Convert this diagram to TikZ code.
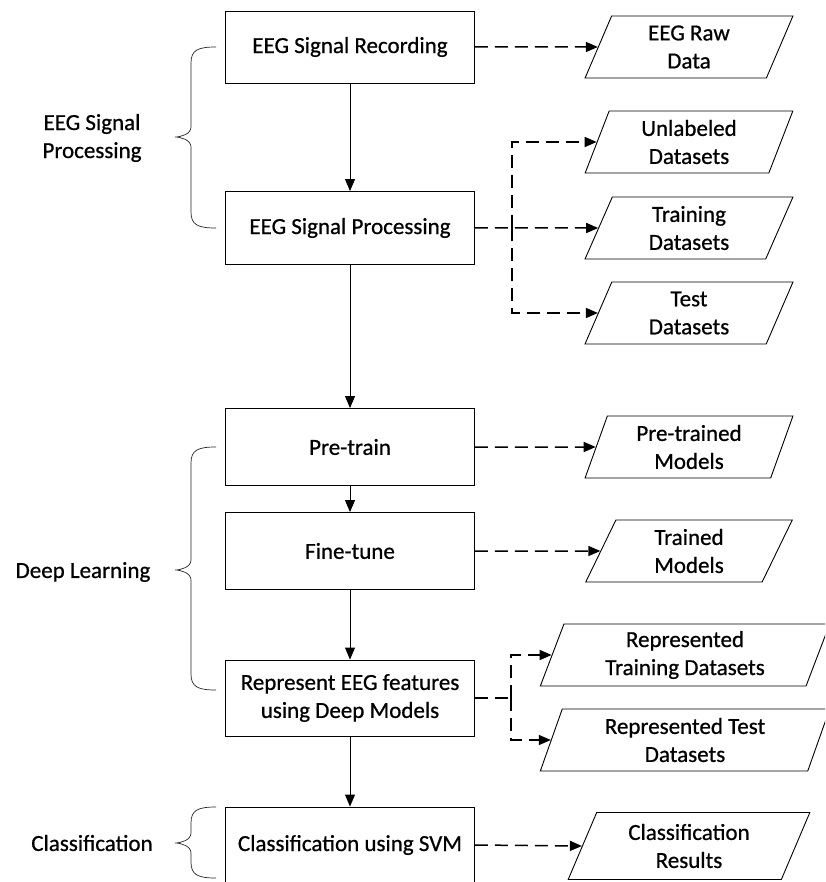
\documentclass[tikz,border=0pt]{standalone}
\usepackage{fontspec}
\setmainfont{Carlito}[FakeBold=0.7]
\usetikzlibrary{arrows.meta,shapes.geometric}

% left curly brace: #1 top y, #2 bottom y, #3 tip y
\newcommand\grpbrace[3]{%
  \draw[grp] (216,#1) .. controls (198,#1) and (191,#1+3) .. (191,#1+16)
    -- (191,#3-10) .. controls (191,#3-3) and (181,#3) .. (175,#3)
    .. controls (181,#3) and (191,#3+3) .. (191,#3+10)
    -- (191,#2-16) .. controls (191,#2-3) and (198,#2) .. (216,#2);}

\begin{document}
\begin{tikzpicture}[x=1pt,y=-1pt,
  txt/.style={font=\fontsize{23}{28}\selectfont},
  proc/.style={txt, draw, line width=0.9pt, minimum width=249pt,
    align=center, inner sep=0pt},
  data/.style={txt, trapezium, trapezium left angle=72,
    trapezium right angle=108, trapezium stretches=true, draw,
    line width=0.9pt, minimum width=208pt, minimum height=62pt,
    align=center, inner sep=0pt},
  flow/.style={line width=0.9pt, -{Triangle[length=12pt,width=10pt]}},
  product/.style={line width=1.5pt, dash pattern=on 13pt off 7pt,
    -{Triangle[length=12pt,width=10pt]}},
  grp/.style={line width=0.7pt, black!85},
  lbl/.style={txt, align=center}]

\useasboundingbox (0,0) rectangle (825,882);
\clip (0,0) rectangle (825,882);

% main process column
\node[proc, minimum height=72pt] (rec) at (350,47)  {EEG Signal Recording};
\node[proc, minimum height=73pt] (sp)  at (350,228) {EEG Signal Processing};
\node[proc, minimum height=77pt] (pre) at (350,447) {Pre-train};
\node[proc, minimum height=77pt] (fin) at (350,551) {Fine-tune};
\node[proc, minimum height=76pt] (rep) at (350,698) {Represent EEG features\\using Deep Models};
\node[proc, minimum height=76pt] (cls) at (350,845) {Classification using SVM};

% data products
\node[data] (raw) at (689,47)  {EEG Raw\\Data};
\node[data] (unl) at (689,142) {Unlabeled\\Datasets};
\node[data] (trn) at (689,228) {Training\\Datasets};
\node[data] (tst) at (689,313) {Test\\Datasets};
\node[data] (ptm) at (689,447) {Pre-trained\\Models};
\node[data] (tm)  at (689,551) {Trained\\Models};
\node[data, minimum width=290pt] (rtr) at (685,655) {Represented\\Training Datasets};
\node[data, minimum width=290pt] (rte) at (685,740) {Represented Test\\Datasets};
\node[data, minimum width=242pt, minimum height=67pt,
      trapezium left angle=67, trapezium right angle=113] (res) at (689,846) {Classification\\Results};

% stage labels
\node[lbl] (g1) at (92,138) {EEG Signal\\Processing};
\node[lbl] (g2) at (83,572) {Deep Learning};
\node[lbl] (g3) at (92,843) {Classification};

% flow between steps
\draw[flow] (rec) -- (sp);
\draw[flow] (sp) -- (pre);
\draw[flow] (pre) -- (fin);
\draw[flow] (fin) -- (rep);
\draw[flow] (rep) -- (cls);

% outputs of each step
\coordinate (j1) at (512,228);
\coordinate (j2) at (511,698);
\draw[product] (rec.east) -- (raw.west);
\draw[product] (sp.east) -- (trn.west);
\draw[product] (j1) |- (unl.west);
\draw[product] (j1) |- (tst.west);
\draw[product] (pre.east) -- (ptm.west);
\draw[product] (fin.east) -- (tm.west);
\draw[product, -] (rep.east) -- (j2);
\draw[product] (j2) |- (rtr.west);
\draw[product] (j2) |- (rte.west);
\draw[product] (cls.east) -- (res.west);

% stage braces
\grpbrace{47}{228}{137}
\grpbrace{447}{690}{570}
\grpbrace{807}{878}{843}
\end{tikzpicture}
\end{document}
